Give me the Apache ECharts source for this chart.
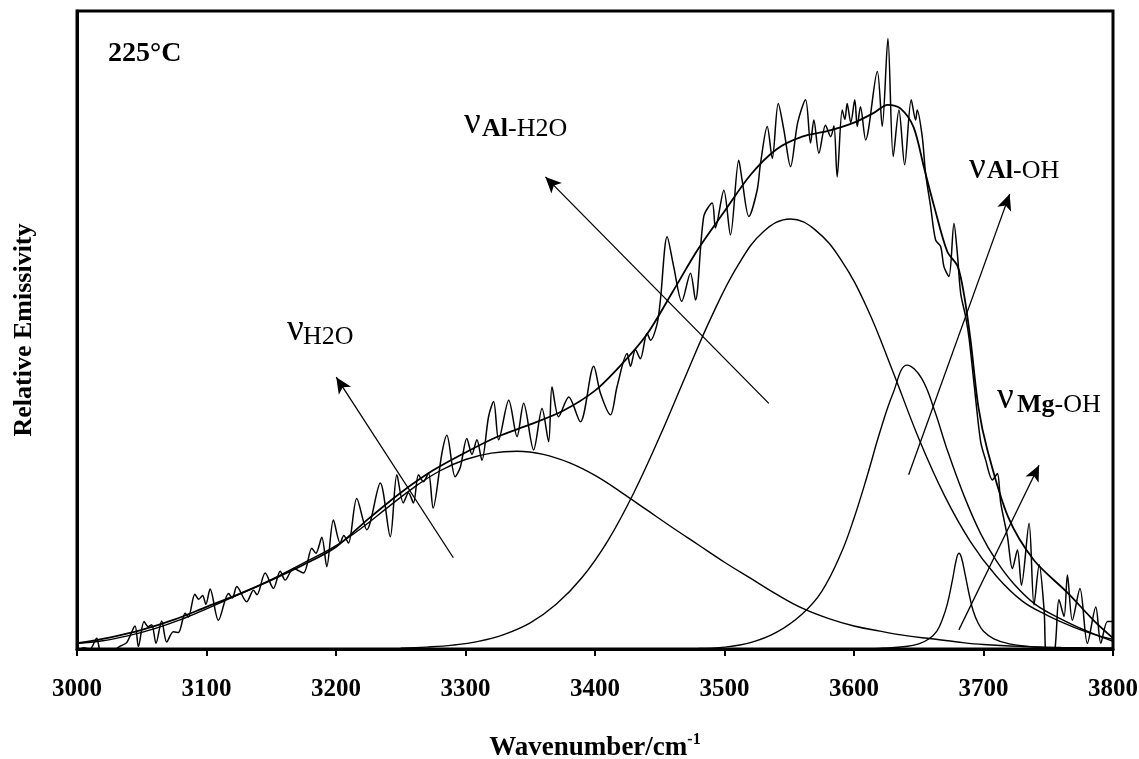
<!DOCTYPE html>
<html>
<head>
<meta charset="utf-8">
<script src="https://cdn.jsdelivr.net/npm/echarts@6/dist/echarts.min.js"></script>
<style>
html,body{margin:0;padding:0;background:#fff;}
#chart{width:1139px;height:759px;}
</style>
</head>
<body>
<div id="chart"></div>
<script>
// x axis ticks
const xTicks = [3000, 3100, 3200, 3300, 3400, 3500, 3600, 3700, 3800];

// measured (noisy) emission spectrum: [wavenumber, relative emissivity]
const measured = [
[3000,-0.5],[3005,0.2],[3010,0.0],[3015.2,1.7],[3018,-0.3],[3024,-0.8],[3029,-0.2],[3033,0.4],
[3038.4,1.0],[3044.8,3.6],[3047.4,0.4],[3051.8,4.3],[3055,3.5],[3057.7,3.8],[3061,0.9],[3065.4,4.4],
[3069.3,1.1],[3074.4,2.7],[3078.3,2.6],[3083.5,5.6],[3086,5.0],[3091,8.6],[3094,7.8],[3097,8.4],
[3099.5,7.0],[3102.8,9.4],[3109.2,4.5],[3117,8.7],[3120,8.0],[3123.4,9.8],[3131,7.4],[3136.3,9.2],
[3139,8.5],[3145.3,11.9],[3151.7,9.5],[3156.9,12.2],[3160.7,10.8],[3167.2,12.6],[3174.9,11.9],
[3181.3,15.8],[3184.5,15.0],[3189,17.5],[3192.9,12.9],[3198,20.2],[3203.2,16.6],[3206,17.8],
[3209.6,16.6],[3216,23.6],[3223.8,18.7],[3234.2,26.0],[3241.9,17.6],[3247,27.3],[3252,22.9],
[3256,24.5],[3259.8,22.9],[3263.7,27.3],[3267.5,26.2],[3271.4,27.6],[3275,22.1],[3281.8,30.7],
[3285.6,33.5],[3292,27.0],[3296,28.5],[3301,33.0],[3305,30.5],[3308.8,32.8],[3312.7,29.6],
[3317.8,36.4],[3321.7,38.8],[3325.6,32.8],[3333.4,39.0],[3339.8,33.3],[3344.9,38.5],[3352.6,31.2],
[3359.1,37.7],[3364.2,32.5],[3366.8,41.1],[3371.9,36.4],[3379.7,39.5],[3388.7,35.6],[3399,44.3],
[3404.2,40.1],[3412,36.7],[3417,41.1],[3424.8,46.3],[3427.4,44.3],[3431.2,46.9],[3435,45.5],
[3440.2,49.5],[3442.8,48.4],[3448,51.0],[3450.5,54.7],[3455.7,64.6],[3460.8,59.9],[3467,54.5],
[3473.7,58.9],[3477.6,54.7],[3484,67.8],[3490.5,69.9],[3493,66.0],[3499.5,71.9],[3504.6,64.9],
[3511,76.6],[3513.6,73.5],[3518.8,67.8],[3525.2,71.9],[3527.8,76.1],[3533,81.9],[3536.9,76.9],
[3541.5,85.5],[3545.9,81.3],[3551,75.6],[3556.5,82.5],[3562.6,86.1],[3566.4,79.3],[3569,82.9],
[3572.9,77.7],[3578,82.1],[3582,80.3],[3584.5,82.0],[3587,74.0],[3590.9,84.5],[3593,83.0],
[3594.7,85.5],[3597.5,82.5],[3600.6,86.1],[3602.5,81.9],[3605,85.0],[3609,79.8],[3618,90.5],
[3621.8,81.9],[3626.2,95.7],[3630.3,77.2],[3634.7,84.5],[3639.1,75.9],[3644.2,86.1],[3647.6,82.9],
[3648.8,84.5],[3652.7,80.3],[3655.3,74.5],[3659.2,69.3],[3663,64.1],[3666.9,63.1],[3669.5,59.9],
[3673.3,58.4],[3677.2,66.7],[3679.8,62.0],[3682.4,55.7],[3686.2,52.1],[3689,48.5],[3693,41.0],
[3697.8,32.5],[3701.7,29.6],[3706.9,26.5],[3710.7,27.5],[3713.3,22.9],[3718.5,17.6],[3722.3,12.6],
[3726.2,15.5],[3729.3,10.0],[3735.2,19.7],[3739,6.9],[3743,13.2],[3746.8,6.1],[3749,-1.5],
[3754.5,-1.0],[3758.3,7.7],[3762.2,5.1],[3764.8,11.6],[3768.6,4.5],[3774.5,9.5],[3780.2,0.9],
[3786.7,6.6],[3790.6,0.9],[3795.7,4.3],[3799.6,4.3],[3800,3.5]
];

// total fitted envelope
const fitTotal = [
[3000,0.9],[3025,1.8],[3050,3.0],[3075,4.6],[3100,6.6],[3125,8.6],[3150,10.8],[3175,13.2],
[3200,16.0],[3225,20.4],[3250,24.5],[3275,28.0],[3300,30.8],[3325,33.3],[3350,35.2],[3375,37.3],
[3400,40.5],[3420,44.5],[3440,49.3],[3460,56.0],[3480,62.8],[3500,68.6],[3520,74.3],[3540,78.3],
[3560,80.3],[3580,81.2],[3600,82.5],[3615,84.0],[3626,85.3],[3636,84.7],[3646,81.8],[3654,75.5],
[3662,69.3],[3672,62.3],[3680,60.0],[3685,55.5],[3690,48.4],[3696,38.0],[3703,31.2],[3719,20.7],
[3739,13.9],[3765,8.8],[3785,4.5],[3800,1.7]
];

// fitted bands
const bandH2O = [
[3000,0.9],[3020,1.3],[3040,2.1],[3060,3.2],[3080,4.6],[3100,6.3],[3120,8.1],[3140,9.9],
[3160,11.9],[3180,14.0],[3200,16.2],[3220,19.0],[3240,22.2],[3260,25.3],[3280,27.9],[3300,29.7],
[3320,30.7],[3340,31.0],[3360,30.5],[3380,29.2],[3400,27.2],[3420,24.6],[3440,21.8],[3460,19.0],
[3480,16.3],[3500,13.6],[3520,11.1],[3540,8.6],[3560,6.4],[3580,4.8],[3600,3.6],[3620,2.8],
[3640,2.1],[3660,1.6],[3680,1.1],[3700,0.7],[3730,0.4],[3760,0.25],[3800,0.15]
];
const bandAlH2O = [
[3250,0.13],[3270,0.3],[3290,0.6],[3310,1.2],[3330,2.3],[3350,4.1],[3370,7.0],[3390,11.2],
[3410,17.0],[3430,24.5],[3450,33.3],[3470,42.8],[3490,52.1],[3510,60.0],[3530,65.4],[3551,67.4],
[3570,65.7],[3590,61.0],[3610,53.5],[3630,43.5],[3650,33.0],[3670,24.0],[3690,16.8],[3710,11.4],
[3730,7.5],[3750,5.2],[3770,3.4],[3790,2.0],[3800,1.5]
];
const bandAlOH = [
[3480,0.1],[3500,0.3],[3520,1.0],[3540,2.6],[3560,5.5],[3575,9.0],[3590,15.0],[3600,20.5],
[3610,27.0],[3620,34.0],[3630,40.0],[3641,44.5],[3652,42.5],[3662,37.5],[3672,31.2],[3685,24.0],
[3698,18.0],[3710,13.8],[3723,10.3],[3740,7.0],[3760,4.7],[3780,2.8],[3800,1.2]
];
const bandMgOH = [
[3600,0.0],[3620,0.1],[3640,0.4],[3650,0.8],[3658,1.6],[3664,2.8],[3668,4.5],[3672,7.0],
[3676,10.8],[3679,14.0],[3681,15.0],[3683,14.3],[3686,11.5],[3689,8.5],[3692,6.0],[3696,4.0],
[3700,2.8],[3708,1.6],[3720,0.8],[3740,0.3],[3770,0.1],[3800,0.0]
];

// annotation arrows [tail, head] in data coordinates
const arrows = [
[[3290.6,14.3],[3200.2,42.6]],
[[3534.2,38.5],[3361.7,74.0]],
[[3642.2,27.3],[3720.2,71.3]],
[[3681.0,3.0],[3742.9,28.8]]
];

const FF = '"Liberation Serif","Times New Roman",serif';
const chart = echarts.init(document.getElementById('chart'));

function lineSeries(data, w, smooth) {
  return {
    type: 'line', data: data, symbol: 'none', smooth: smooth, clip: true,
    lineStyle: {color: '#000', width: w}, silent: true, z: 3
  };
}

const fitS = lineSeries(fitTotal, 1.8, 0.3);
fitS.markLine = {
  silent: true, animation: false,
  symbol: ['none', 'arrow'],
  lineStyle: {color: '#000', width: 1.3, type: 'solid'},
  label: {show: false},
  data: arrows.map(a => [{coord: a[0], symbol: 'none'}, {coord: a[1], symbol: 'arrow', symbolSize: [11, 16]}])
};

function label(nuX, nuY, subX, subY, bold, rest) {
  return [
    {type: 'text', x: nuX, y: nuY, style: {text: 'ν', font: '37px ' + FF, fill: '#000', verticalAlign: 'middle', textVerticalAlign: 'middle'}},
    {type: 'text', x: subX, y: subY, style: {
      text: (bold ? '{b|' + bold + '}' : '') + '{r|' + rest + '}', fill: '#000',
      verticalAlign: 'middle', textVerticalAlign: 'middle',
      rich: {b: {fontFamily: FF, fontSize: 26, fontWeight: 'bold', fill: '#000'},
             r: {fontFamily: FF, fontSize: 26, fill: '#000'}}
    }}
  ];
}

chart.setOption({
  animation: false,
  backgroundColor: '#fff',
  grid: {left: 77, right: 26, top: 11, bottom: 110, outerBoundsMode: 'none', containLabel: false,
         show: true, borderColor: '#000', borderWidth: 3, backgroundColor: 'transparent'},
  xAxis: {
    type: 'value', min: xTicks[0], max: xTicks[xTicks.length - 1], interval: 100,
    axisLine: {show: true, lineStyle: {color: '#000', width: 3}},
    axisTick: {show: true, inside: false, length: 7, lineStyle: {color: '#000', width: 2}},
    splitLine: {show: false},
    axisLabel: {color: '#000', fontFamily: FF, fontWeight: 'bold', fontSize: 25, margin: 28,
                formatter: v => String(v)},
    name: '{a|Wavenumber/cm}{s|-1}', nameLocation: 'middle', nameGap: 83,
    nameTextStyle: {rich: {
      a: {fontFamily: FF, fontWeight: 'bold', fontSize: 27, color: '#000', verticalAlign: 'bottom', lineHeight: 30},
      s: {fontFamily: FF, fontWeight: 'bold', fontSize: 16, color: '#000', verticalAlign: 'top', lineHeight: 30}
    }}
  },
  yAxis: {
    type: 'value', min: 0, max: 100,
    axisLine: {show: true, lineStyle: {color: '#000', width: 3}},
    axisTick: {show: false}, axisLabel: {show: false}, splitLine: {show: false},
    name: 'Relative Emissivity', nameLocation: 'middle', nameGap: 40, nameRotate: 90,
    nameTextStyle: {fontFamily: FF, fontWeight: 'bold', fontSize: 26, color: '#000'}
  },
  series: [
    lineSeries(measured, 1.5, 0.3),
    fitS,
    lineSeries(bandH2O, 1.4, 0.4),
    lineSeries(bandAlH2O, 1.4, 0.4),
    lineSeries(bandAlOH, 1.4, 0.4),
    lineSeries(bandMgOH, 1.4, 0.4)
  ],
  graphic: [
    {type: 'text', x: 108, y: 54, style: {text: '225°C', font: 'bold 28px ' + FF, fill: '#000', verticalAlign: 'middle', textVerticalAlign: 'middle'}}
  ].concat(
    label(287, 330, 303, 337, '', 'H2O'),
    label(464, 123, 482, 129, 'Al', '-H2O'),
    label(969, 168, 987, 171, 'Al', '-OH'),
    label(997, 398, 1017, 405, 'Mg', '-OH')
  )
});
</script>
</body>
</html>
